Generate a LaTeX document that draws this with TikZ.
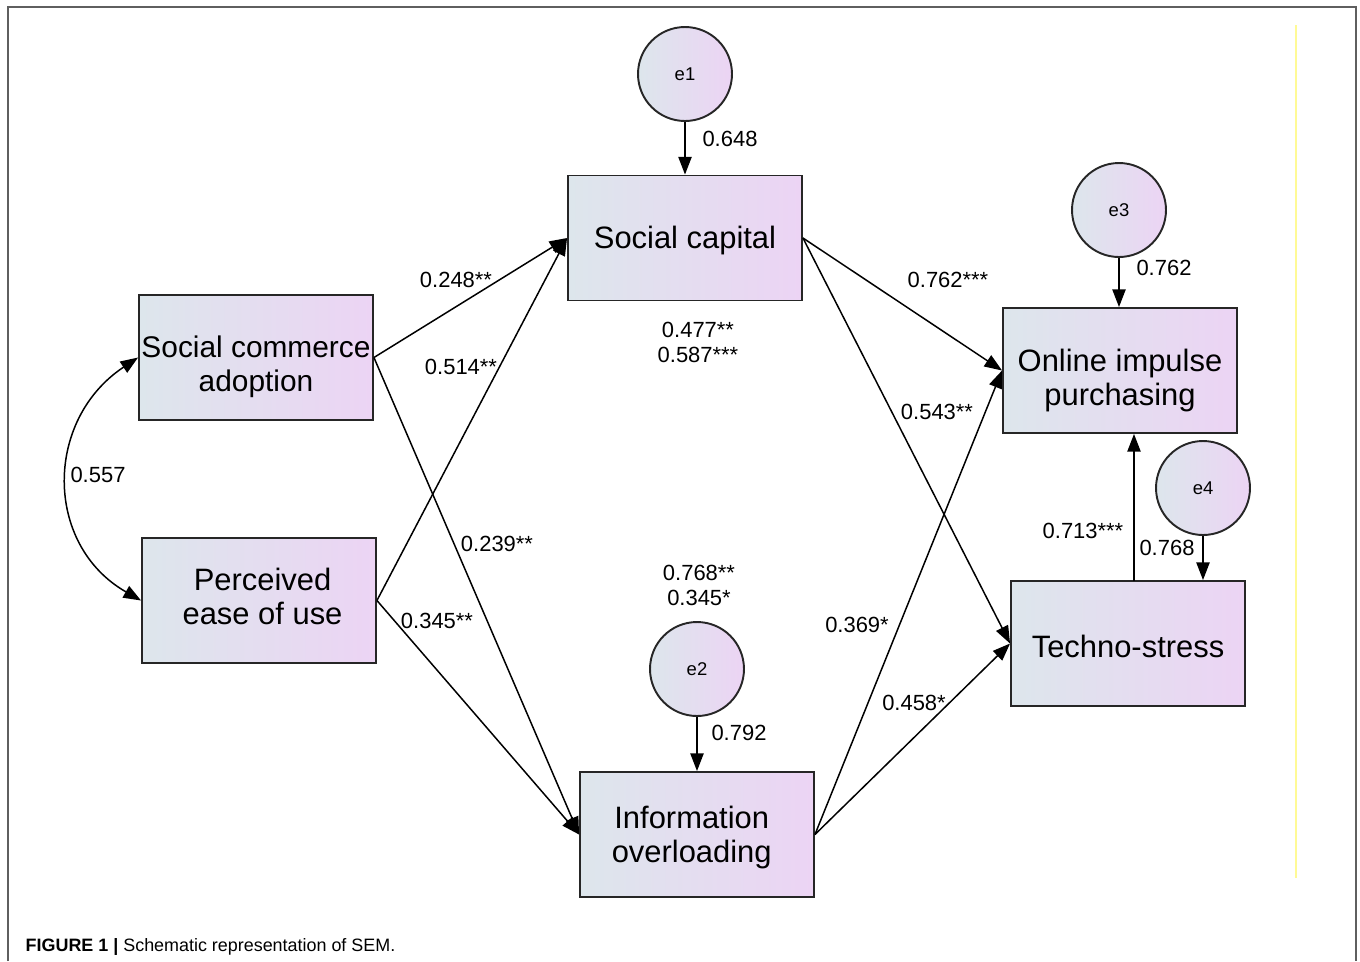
\documentclass[tikz,border=0pt]{standalone}
\usepackage{fontspec}
\setmainfont{Liberation Sans}
\usepackage{tikz}
\usetikzlibrary{arrows.meta}
\definecolor{boxLeft}{RGB}{221,230,236}
\definecolor{boxRight}{RGB}{236,212,244}
\definecolor{frameGray}{RGB}{95,95,95}
\definecolor{paleYellow}{RGB}{255,250,150}
\tikzset{
	varbox/.style   = {draw=black!85, line width=1.1pt, rectangle,
		left color=boxLeft, right color=boxRight,
		minimum width=4.68cm, minimum height=2.5cm},
	boxtext/.style  = {inner sep=0pt, align=center,
		font=\fontsize{17.6}{19.5}\selectfont},
	errcirc/.style  = {draw=black!85, line width=1.1pt, circle,
		left color=boxLeft, right color=boxRight,
		minimum size=1.88cm, inner sep=0pt,
		font=\fontsize{10.5}{12}\selectfont},
	est/.style      = {inner sep=0pt, align=center,
		font=\fontsize{12.5}{14.2}\selectfont},
}

\begin{document}
\begin{tikzpicture}[ x=0.02cm, y=-0.02cm,           %<--pixel grid of the figure
                       line width=0.85pt,
                       >/.tip={Triangle[length=10pt, width=7.5pt]}
                       ]
    \useasboundingbox (0,0) rectangle (1360,961);

    %-- Frame --%
    \draw[frameGray, line width=1.1pt] (8,961) -- (8,7) -- (1356,7) -- (1356,961);
    \draw[paleYellow, line width=0.6pt] (1296,25) -- (1296,878);

    %-- Blocks creation --%
    \draw
      % EXOGENOUS %
      node(commerceAdoption) at (256,357.5) [varbox,
        label={[boxtext, font=\fontsize{17}{19.3}\selectfont, yshift=-5.1pt]center:Social commerce\\adoption}] {}
      node(easeOfUse)        at (259,600.5) [varbox,
        label={[boxtext, xshift=2pt, yshift=2.3pt]center:Perceived\\ease of use}] {}
      % MEDIATORS %
      node(socialCapital)    at (685,238)   [varbox,
        label={[boxtext, yshift=-1.7pt]center:Social capital}] {}
      node(infoOverload)     at (697,834.5) [varbox,
        label={[boxtext, xshift=-3pt, yshift=-1.7pt]center:Information\\overloading}] {}
      % OUTCOMES %
      node(impulseBuying)    at (1120,370.5) [varbox,
        label={[boxtext, yshift=-5.7pt]center:Online impulse\\purchasing}] {}
      node(technoStress)     at (1128,643.5) [varbox,
        label={[boxtext, yshift=-1.7pt]center:Techno-stress}] {}
    ;
    \draw
      % ERRORS %
      node(e1) at (685,74)   [errcirc] {e1}
      node(e2) at (697,669)  [errcirc] {e2}
      node(e3) at (1119,210) [errcirc] {e3}
      node(e4) at (1203,488) [errcirc] {e4}
    ;
    \coordinate (stressTop) at (1134,581);

    %-- Block linking --%
    % COVARIANCE %
    \draw[<->] (commerceAdoption.west) .. controls (44,420) and (44,545) .. (easeOfUse.west);

    % TO MEDIATORS %
    \draw[->] (commerceAdoption.east) -- (socialCapital.west);
    \draw[->] (commerceAdoption.east) -- (infoOverload.west);
    \draw[->] (easeOfUse.east)        -- (socialCapital.west);
    \draw[->] (easeOfUse.east)        -- (infoOverload.west);

    % TO OUTCOMES %
    \draw[->] (socialCapital.east)    -- (impulseBuying.west);
    \draw[->] (socialCapital.east)    -- (technoStress.west);
    \draw[->] (infoOverload.east)     -- (impulseBuying.west);
    \draw[->] (infoOverload.east)     -- (technoStress.west);
    \draw[->] (stressTop)             -- (stressTop |- impulseBuying.south);

    % ERRORS %
    \draw[->] (e1) -- (socialCapital.north);
    \draw[->] (e2) -- (infoOverload.north);
    \draw[->] (e3) -- (e3 |- impulseBuying.north);
    \draw[->] (e4) -- (e4 |- technoStress.north);

    %-- Estimates --%
    \draw%--------------------------------------------------------------
      node(covLabel)     at (98,475)  [est] {0.557}
      node(scaCapital)   at (456,280) [est] {0.248**}
      node(peuCapital)   at (461,367) [est] {0.514**}
      node(scaOverload)  at (497,544) [est] {0.239**}
      node(peuOverload)  at (437,621) [est] {0.345**}
      node(capitalPair)  at (698,342) [est] {0.477**\\0.587***}
      node(overloadPair) at (699,585) [est] {0.768**\\0.345*}
      node(capImpulse)   at (948,280) [est] {0.762***}
      node(capStress)    at (937,412) [est] {0.543**}
      node(ovlImpulse)   at (857,625) [est] {0.369*}
      node(ovlStress)    at (914,703) [est] {0.458*}
      node(stressImpulse) at (1083,531) [est] {0.713***}
      node(e1Label)      at (730,139) [est] {0.648}
      node(e2Label)      at (739,733) [est] {0.792}
      node(e3Label)      at (1164,268) [est] {0.762}
      node(e4Label)      at (1167,548) [est] {0.768}
    ;

    %-- Caption --%
    \node(caption) at (25,947) [anchor=west, inner sep=0pt, font=\fontsize{10.2}{12}\selectfont]
      {\textbf{FIGURE 1 |} Schematic representation of SEM.};

  \end{tikzpicture}
\end{document}
